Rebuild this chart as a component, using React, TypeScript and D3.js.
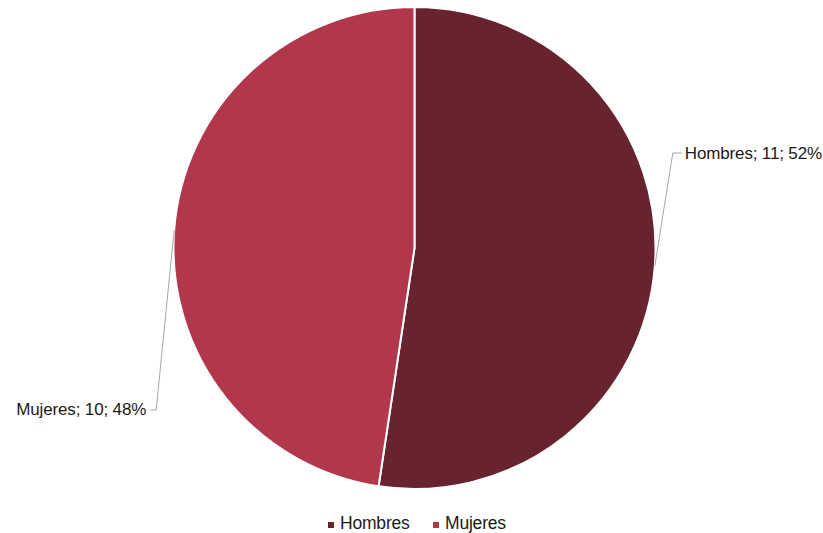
import React from "react";
import * as d3 from "d3";

const categories = ["Hombres", "Mujeres"];
const values = [11, 10];
const colors = ["#67232E", "#B1384C"];

const W = 823;
const H = 533;

export default function App() {
  const cx = 414.5;
  const cy = 248;
  const r = 241;
  const total = d3.sum(values);
  const pie = d3.pie<number>().sort(null).value((d) => d)(values);
  const arc = d3.arc<d3.PieArcDatum<number>>().innerRadius(0).outerRadius(r);
  // leader elbow offsets (relative to arc edge point)
  const elbows = [
    { dx: 18, dy: -113, hx: 9 },
    { dx: -18, dy: 180, hx: -6 },
  ];
  const font = "'Liberation Sans', Arial, sans-serif";
  return (
    <svg width={W} height={H} style={{ position: "absolute", left: 0, top: 0 }}>
      <rect width={W} height={H} fill="#fff" />
      <g transform={`translate(${cx},${cy})`}>
        {pie.map((p, i) => (
          <path key={i} d={arc(p) || ""} fill={colors[i]} stroke="#fff" strokeWidth={2} />
        ))}
      </g>
      {pie.map((p, i) => {
        const mid = (p.startAngle + p.endAngle) / 2;
        const x0 = cx + r * Math.sin(mid);
        const y0 = cy - r * Math.cos(mid);
        const e = elbows[i];
        const x1 = x0 + e.dx;
        const y1 = y0 + e.dy;
        const x2 = x1 + e.hx;
        const pct = Math.round((values[i] / total) * 100);
        const right = e.hx > 0;
        return (
          <g key={i}>
            <polyline
              points={`${x0},${y0} ${x1},${y1} ${x2},${y1}`}
              fill="none"
              stroke="#A6A6A6"
              strokeWidth={1}
            />
            <text
              x={right ? x2 + 3 : x2 - 4}
              y={y1 + 5.5}
              fontFamily={font}
              fontSize={17}
              letterSpacing={-0.15}
              textAnchor={right ? "start" : "end"}
              fill="#1a1a1a"
            >
              {`${categories[i]}; ${values[i]}; ${pct}%`}
            </text>
          </g>
        );
      })}
      <g>
        {categories.map((c, i) => {
          const lx = [328, 433][i];
          return (
            <g key={c}>
              <rect x={lx} y={522} width={6} height={6} fill={colors[i]} />
              <text x={lx + 12} y={529} fontFamily={font} fontSize={17.5} letterSpacing={-0.2} fill="#1a1a1a">
                {c}
              </text>
            </g>
          );
        })}
      </g>
    </svg>
  );
}
